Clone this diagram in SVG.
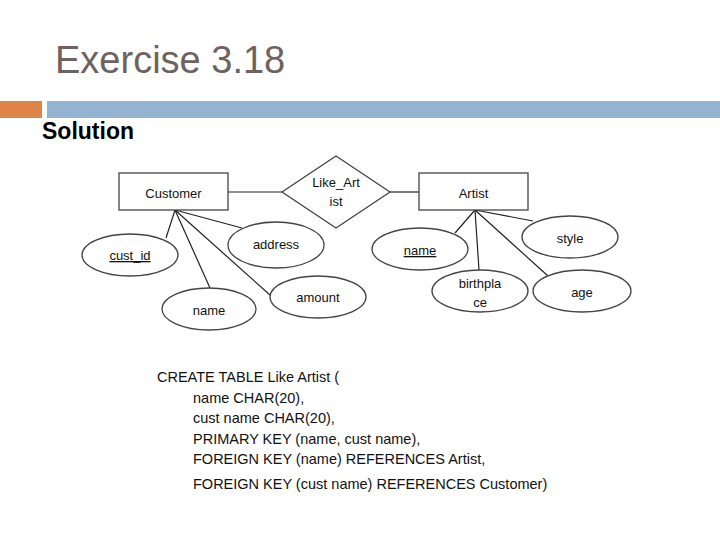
<svg xmlns="http://www.w3.org/2000/svg" width="720" height="540" viewBox="0 0 720 540">
<style>
.t{font-family:"Liberation Sans",Arial,sans-serif;font-size:13px;fill:#111;text-anchor:middle}
.s{font-family:"Liberation Sans",Arial,sans-serif;font-size:14.5px;fill:#111}
.n{fill:#fff;stroke:#444;stroke-width:1.3}
.c line{stroke:#222;stroke-width:1.2}
</style>
<rect width="720" height="540" fill="#fff"/>
<text x="55" y="73" font-family="Liberation Sans,Arial,sans-serif" font-size="38" fill="#6e625e">Exercise 3.18</text>
<rect x="0" y="101" width="42" height="17" fill="#dd8446"/>
<rect x="47" y="101" width="673" height="17" fill="#93b3d0"/>
<text x="42" y="139" font-family="Liberation Sans,Arial,sans-serif" font-size="23" font-weight="bold" fill="#000">Solution</text>
<g class="c" id="connectors">
<line x1="228" y1="192" x2="282" y2="192"/>
<line x1="390" y1="192" x2="419" y2="192"/>
<line x1="175" y1="210" x2="166" y2="238"/>
<line x1="175" y1="210" x2="242" y2="228"/>
<line x1="175" y1="210" x2="210" y2="288"/>
<line x1="175" y1="210" x2="270" y2="295"/>
<line x1="475" y1="210" x2="455" y2="233"/>
<line x1="475" y1="210" x2="533" y2="221"/>
<line x1="475" y1="210" x2="479" y2="270"/>
<line x1="475" y1="210" x2="548" y2="276"/>
</g>
<g id="customer"><rect class="n" x="119" y="173" width="109" height="37"/><text class="t" x="173.5" y="198">Customer</text></g>
<g id="like_artist"><polygon class="n" points="336,156 390,192 336,228 282,192"/><text class="t" x="336" y="187">Like_Art</text><text class="t" x="336" y="206">ist</text></g>
<g id="artist"><rect class="n" x="419" y="173" width="109" height="37"/><text class="t" x="473.5" y="198">Artist</text></g>
<g id="cust_id"><ellipse class="n" cx="130" cy="255" rx="48" ry="21"/><text class="t" x="130" y="260" text-decoration="underline">cust_id</text></g>
<g id="address"><ellipse class="n" cx="276" cy="245" rx="48" ry="23"/><text class="t" x="276" y="249">address</text></g>
<g id="cust_name"><ellipse class="n" cx="209" cy="309" rx="47" ry="21"/><text class="t" x="209" y="315">name</text></g>
<g id="amount"><ellipse class="n" cx="318" cy="297" rx="48" ry="21"/><text class="t" x="318" y="302">amount</text></g>
<g id="artist_name"><ellipse class="n" cx="420" cy="249" rx="48" ry="21"/><text class="t" x="420" y="255" text-decoration="underline">name</text></g>
<g id="style"><ellipse class="n" cx="570" cy="237" rx="48" ry="21"/><text class="t" x="570" y="243">style</text></g>
<g id="birthplace"><ellipse class="n" cx="480" cy="291" rx="48" ry="21"/><text class="t" x="480" y="288">birthpla</text><text class="t" x="480" y="307">ce</text></g>
<g id="age"><ellipse class="n" cx="582" cy="291" rx="49" ry="21"/><text class="t" x="582" y="297">age</text></g>
<g id="sql">
<text class="s" x="157" y="382">CREATE TABLE Like Artist (</text>
<text class="s" x="193" y="403">name CHAR(20),</text>
<text class="s" x="193" y="423">cust name CHAR(20),</text>
<text class="s" x="193" y="444">PRIMARY KEY (name, cust name),</text>
<text class="s" x="193" y="464">FOREIGN KEY (name) REFERENCES Artist,</text>
<text class="s" x="193" y="489">FOREIGN KEY (cust name) REFERENCES Customer)</text>
</g>
</svg>
